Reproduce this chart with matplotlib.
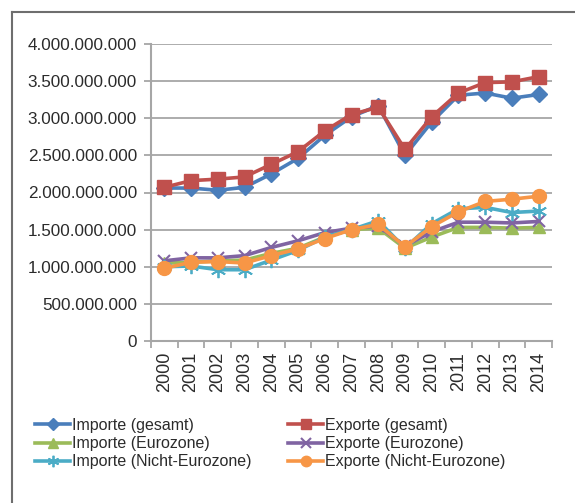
import matplotlib
matplotlib.use("Agg")
import matplotlib.pyplot as plt
from matplotlib.lines import Line2D
from matplotlib.ticker import FuncFormatter, MultipleLocator

years = ["2000", "2001", "2002", "2003", "2004", "2005", "2006", "2007",
         "2008", "2009", "2010", "2011", "2012", "2013", "2014"]

importe_gesamt = [2.06e9, 2.06e9, 2.03e9, 2.07e9, 2.25e9, 2.46e9, 2.77e9, 3.02e9,
                  3.17e9, 2.50e9, 2.95e9, 3.31e9, 3.34e9, 3.27e9, 3.32e9]
exporte_gesamt = [2.07e9, 2.16e9, 2.18e9, 2.21e9, 2.38e9, 2.55e9, 2.83e9, 3.05e9,
                  3.15e9, 2.58e9, 3.02e9, 3.34e9, 3.48e9, 3.49e9, 3.56e9]
importe_euro = [1.05e9, 1.06e9, 1.08e9, 1.09e9, 1.18e9, 1.25e9, 1.40e9, 1.50e9,
                1.52e9, 1.25e9, 1.40e9, 1.53e9, 1.53e9, 1.52e9, 1.53e9]
exporte_euro = [1.08e9, 1.12e9, 1.12e9, 1.15e9, 1.26e9, 1.35e9, 1.46e9, 1.52e9,
                1.55e9, 1.28e9, 1.47e9, 1.60e9, 1.60e9, 1.59e9, 1.61e9]
importe_nicht_euro = [1.00e9, 1.01e9, 0.96e9, 0.96e9, 1.09e9, 1.22e9, 1.40e9, 1.50e9,
                      1.62e9, 1.25e9, 1.58e9, 1.78e9, 1.80e9, 1.73e9, 1.75e9]
exporte_nicht_euro = [0.98e9, 1.06e9, 1.07e9, 1.05e9, 1.15e9, 1.24e9, 1.38e9, 1.50e9,
                      1.57e9, 1.27e9, 1.54e9, 1.74e9, 1.88e9, 1.91e9, 1.95e9]

labels = ["Importe (gesamt)", "Exporte (gesamt)", "Importe (Eurozone)",
          "Exporte (Eurozone)", "Importe (Nicht-Eurozone)", "Exporte (Nicht-Eurozone)"]

plt.rcParams["font.family"] = ["Liberation Sans", "DejaVu Sans"]

W, H = 575, 503
fig = plt.figure(figsize=(W / 100, H / 100), dpi=100)
ax = fig.add_axes([151 / W, 1 - 341 / H, (552 - 151) / W, (341 - 44) / H])

x = list(range(len(years)))
styles = [
    (importe_gesamt, "#4A7EBB", "D", 8, dict()),
    (exporte_gesamt, "#C0504D", "s", 10, dict()),
    (importe_euro, "#9BBB59", "^", 9, dict()),
    (exporte_euro, "#8064A2", "x", 9, dict(markeredgewidth=1.5)),
    (importe_nicht_euro, "#4BACC6", (6, 2, 0), 11, dict(markeredgewidth=1.3)),
    (exporte_nicht_euro, "#F79646", "o", 10, dict()),
]
handles = []
for (vals, col, mk, ms, kw), lab in zip(styles, labels):
    h, = ax.plot(x, vals, color=col, lw=2.6, marker=mk, markersize=ms,
                 markerfacecolor=col, markeredgecolor=col, label=lab,
                 solid_joinstyle="round", **kw)
    handles.append(h)

gray = "#A6A6A6"
ax.set_xlim(-0.5, len(years) - 0.5)
ax.set_ylim(0, 4e9)
ax.yaxis.set_major_locator(MultipleLocator(5e8))
ax.yaxis.set_major_formatter(FuncFormatter(lambda v, p: f"{int(round(v)):,}".replace(",", ".")))
ax.grid(axis="y", color=gray, lw=1.3)
ax.set_axisbelow(True)

ax.set_xticks(x)
ax.set_xticklabels(years, rotation=90, fontsize=13, color="#2B2B2B")
ax.set_xticks([i - 0.5 for i in range(len(years) + 1)], minor=True)
ax.tick_params(axis="x", which="major", length=0, pad=8)
ax.tick_params(axis="x", which="minor", length=5, width=1.3, color=gray, direction="out")
ax.tick_params(axis="y", length=5, width=1.3, color=gray, pad=5, labelsize=12.3,
               labelcolor="#2B2B2B")

for s in ("top", "right"):
    ax.spines[s].set_visible(False)
for s in ("left", "bottom"):
    ax.spines[s].set_color(gray)
    ax.spines[s].set_linewidth(1.5)

# outer chart frame
frame_col = "#6E6E6E"
fig.add_artist(Line2D([11.5 / W, 11.5 / W], [0, 1 - 12 / H], color=frame_col, lw=1.5,
                      transform=fig.transFigure))
fig.add_artist(Line2D([11.5 / W, 1], [1 - 12 / H, 1 - 12 / H], color=frame_col, lw=1.5,
                      transform=fig.transFigure))

order = [0, 2, 4, 1, 3, 5]
leg = fig.legend([handles[i] for i in order], [labels[i] for i in order],
                 ncol=2, loc="upper left", bbox_to_anchor=(35 / W, 1 - 418 / H),
                 frameon=False, borderpad=0, borderaxespad=0, fontsize=11.5,
                 handlelength=2.2, handletextpad=0.1, columnspacing=2.3,
                 labelspacing=0.2, markerscale=0.75)
for t in leg.get_texts():
    t.set_color("#2B2B2B")

fig.savefig("out.png", dpi=100)
